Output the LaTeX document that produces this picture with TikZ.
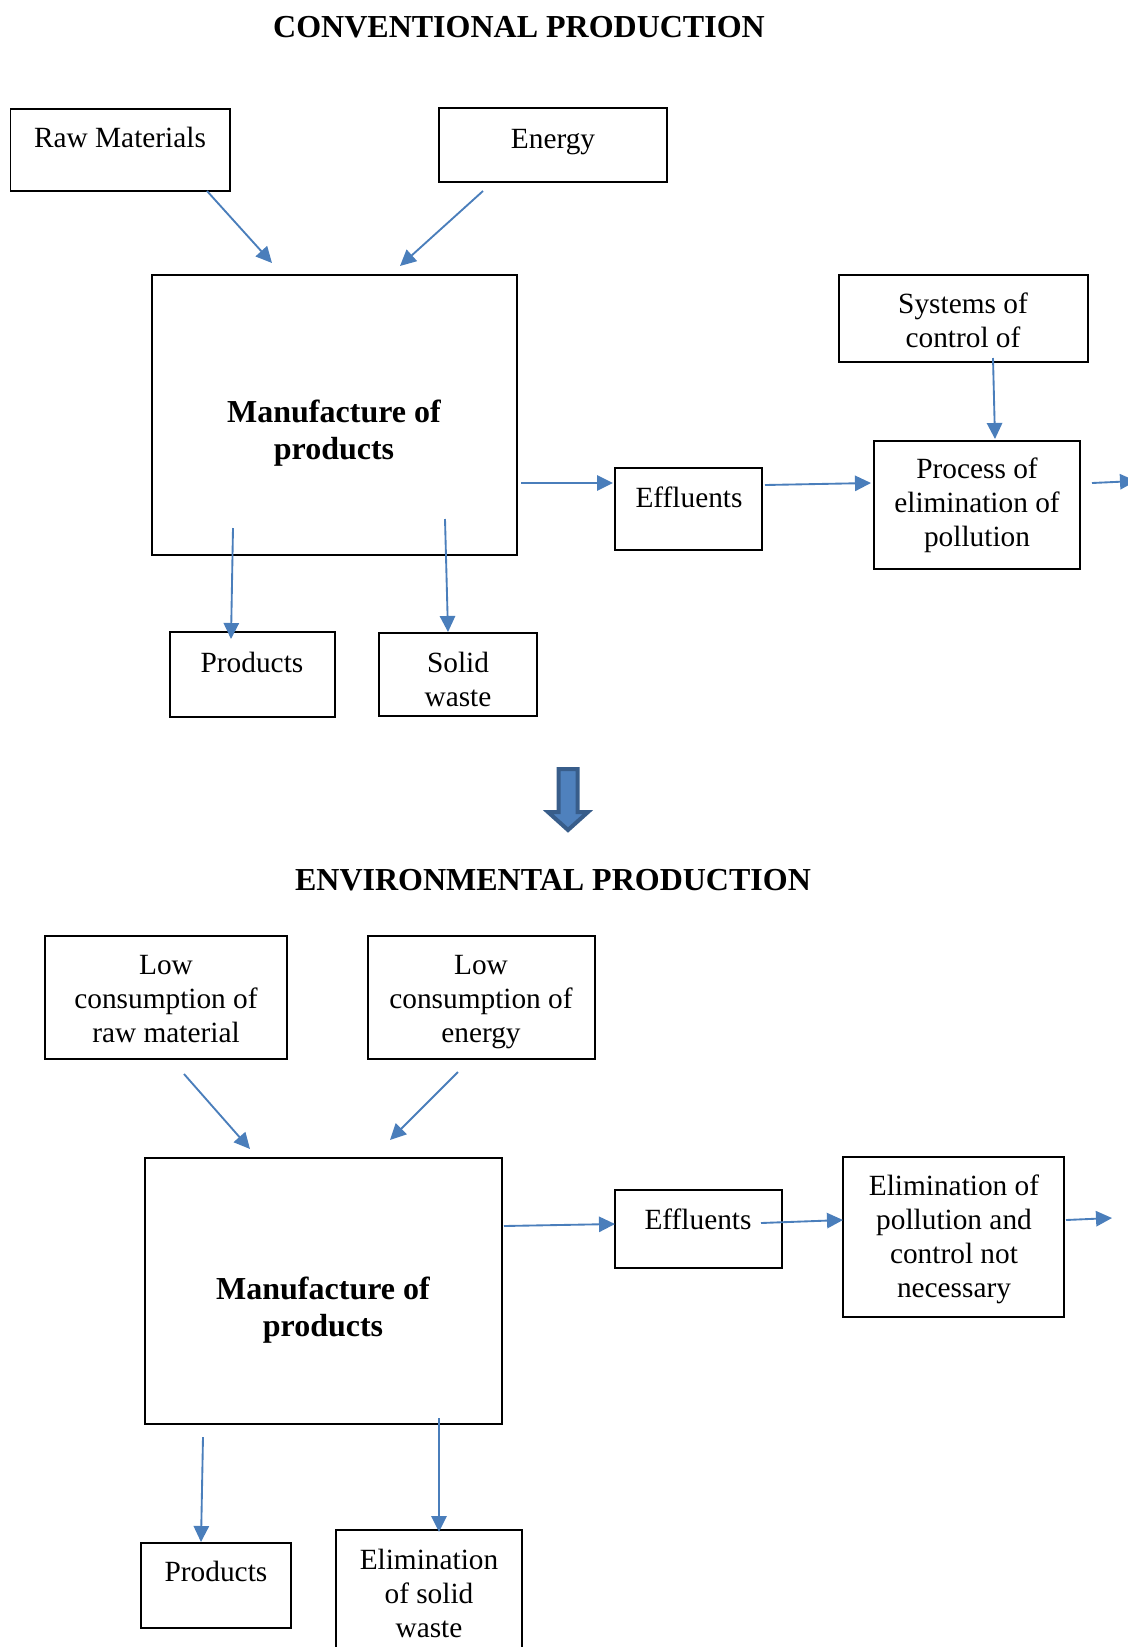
\documentclass[tikz,border=0pt]{standalone}
\usepackage{fontspec}
\setmainfont{Liberation Serif}
\usetikzlibrary{arrows.meta,calc}
\definecolor{arrblue}{HTML}{4A7EBB}
\definecolor{bigfill}{HTML}{4F81BD}
\definecolor{bigedge}{HTML}{385D8A}
\newcommand\mkbox[5]{\node[boxst, minimum width={(#4-#2)*0.75pt}, minimum height={(#5-#3)*0.75pt}] (#1) at ({(#2+#4)/2},{(#3+#5)/2}) {};}
\begin{document}
\begin{tikzpicture}[x=0.75pt,y=-0.75pt,
 boxst/.style={draw=black, line width=1pt, inner sep=0pt, outer sep=0pt},
 txt/.style={align=center, inner sep=0pt, font=\fontsize{22}{25.5}\selectfont},
 btxt/.style={align=center, inner sep=0pt, font=\fontsize{24}{27.7}\selectfont\bfseries},
 arr/.style={draw=arrblue, line width=1.4pt, -{Triangle[length=12pt,width=11.5pt]}}]
\useasboundingbox (0,0) rectangle (1128,1647);

% ---------- Conventional production ----------
\node[btxt] (title1) at (519,27) {CONVENTIONAL PRODUCTION};

\mkbox{raw}{10.5}{109}{230}{191}
\mkbox{ene}{439}{108}{667}{182}
\mkbox{manuf}{152}{275}{517}{555}
\mkbox{effa}{615}{468}{762}{550}
\mkbox{proc}{874}{441}{1080}{569}
\mkbox{sys}{839}{275}{1088}{362}
\mkbox{proda}{170}{632}{335}{717}
\mkbox{solid}{379}{633}{537}{716}

\node[txt] (rawt) at (120,137) {Raw Materials};
\node[txt] (enet) at (553,142) {Energy};
\node[btxt] (manuft) at (334,433) {Manufacture of\\products};
\node[txt] (effat) at (689,497) {Effluents};
\node[txt] (proct) at (977,505) {Process of\\elimination of\\pollution};
\node[txt] (syst) at (963,320) {Systems of\\control of};
\node[txt] (prodat) at (252,662) {Products};
\node[txt] (solidt) at (458,679) {Solid\\waste};

\coordinate (outa) at (1136,481);

\draw[arr] ($(raw.south east)+(-23,0)$) -- ($(manuf.north west)+(120,-12)$);
\draw[arr] ($(ene.south west)+(44,9)$) -- ($(manuf.north west)+(248,-9)$);
\draw[arr] ($(manuf.north east)+(4,208)$) -- ($(effa.north west)+(-2,15)$);
\draw[arr] ($(effa.north east)+(3,17)$) -- ($(proc.north west)+(-3,42)$);
\draw[arr] ($(sys.south west)+(154,-4)$) -- ($(proc.north west)+(121,-2)$);
\draw[arr] ($(proc.north east)+(12,42)$) -- (outa);
\draw[arr] ($(manuf.south west)+(81,-27)$) -- ($(proda.north west)+(61,7)$);
\draw[arr] ($(manuf.south west)+(293,-36)$) -- ($(solid.north west)+(69,-1)$);

% ---------- big down arrow ----------
\draw[fill=bigfill, draw=bigedge, line width=3pt, line join=miter]
  (558.5,769) -- (577.5,769) -- (577.5,812) -- (588,812) -- (568,830)
  -- (548,812) -- (558.5,812) -- cycle;

% ---------- Environmental production ----------
\node[btxt] (title2) at (553,880) {ENVIRONMENTAL PRODUCTION};

\mkbox{lraw}{45}{936}{287}{1059}
\mkbox{lene}{368}{936}{595}{1059}
\mkbox{manufb}{145}{1158}{502}{1424}
\mkbox{effb}{615}{1190}{782}{1268}
\mkbox{elim}{843}{1157}{1064}{1317}
\mkbox{prodb}{141}{1543}{291}{1628}
\mkbox{esw}{336}{1530}{522}{1690}

\node[txt] (lrawt) at (166,999) {Low\\consumption of\\raw material};
\node[txt] (lenet) at (481,1002) {Low\\consumption of\\energy};
\node[btxt] (manufbt) at (323,1310) {Manufacture of\\products};
\node[txt] (effbt) at (698,1219) {Effluents};
\node[txt] (elimt) at (954,1239) {Elimination of\\pollution and\\control not\\necessary};
\node[txt] (prodbt) at (216,1571) {Products};
\node[txt] (eswt) at (429,1593) {Elimination\\of solid\\waste};

\coordinate (outb) at (1112,1218);

\draw[arr] ($(lraw.south west)+(139,15)$) -- ($(manufb.north west)+(105,-9)$);
\draw[arr] ($(lene.south west)+(90,13)$) -- ($(manufb.north west)+(245,-18)$);
\draw[arr] ($(manufb.north east)+(2,68)$) -- ($(effb.north west)+(0,34)$);
\draw[arr] ($(effb.north east)+(-21,33)$) -- ($(elim.north west)+(0,63)$);
\draw[arr] ($(elim.north east)+(2,63)$) -- (outb);
\draw[arr] ($(manufb.south west)+(58,13)$) -- ($(prodb.north west)+(60,-1)$);
\draw[arr] ($(manufb.south west)+(294,-6)$) -- ($(esw.north west)+(103,2)$);
\end{tikzpicture}
\end{document}
